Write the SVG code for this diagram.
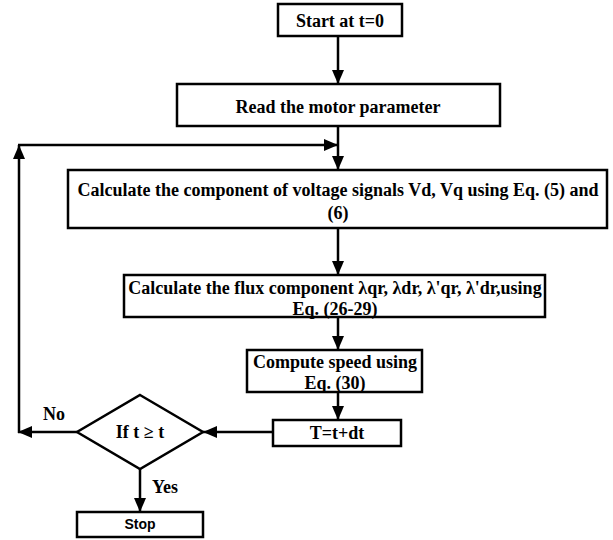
<svg xmlns="http://www.w3.org/2000/svg" width="613" height="540" viewBox="0 0 613 540">
<style>
.box{fill:#fff;stroke:#000;stroke-width:2.5}
.t{font-family:"Liberation Serif","Times New Roman",serif;font-weight:bold;font-size:18px;fill:#000;text-anchor:middle}
.s{font-family:"Liberation Sans",Arial,sans-serif;font-weight:bold;font-size:14px;fill:#000;text-anchor:middle}
.c{fill:none;stroke:#000;stroke-width:2.5}
</style>
<defs>
<marker id="ah" markerUnits="userSpaceOnUse" markerWidth="14" markerHeight="14" viewBox="0 0 14 14" refX="14" refY="7" orient="auto">
<path d="M0,1 L14,7 L0,13 Z" fill="#000"/>
</marker>
</defs>
<g id="connectors">
<path class="c" d="M338,36 V84" marker-end="url(#ah)"/>
<path class="c" d="M338,126 V170" marker-end="url(#ah)"/>
<path class="c" d="M77,432 H18" marker-end="url(#ah)"/>
<path class="c" d="M19,433 V145" marker-end="url(#ah)"/>
<path class="c" d="M18,145 H338" marker-end="url(#ah)"/>
<path class="c" d="M338,228 V275" marker-end="url(#ah)"/>
<path class="c" d="M338,317 V350" marker-end="url(#ah)"/>
<path class="c" d="M338,392 V420" marker-end="url(#ah)"/>
<path class="c" d="M273,432 H203" marker-end="url(#ah)"/>
<path class="c" d="M140,469 V512" marker-end="url(#ah)"/>
</g>
<g id="start">
<rect class="box" x="278" y="4" width="124" height="32"/>
<text class="t" x="340" y="27">Start at t=0</text>
</g>
<g id="read">
<rect class="box" x="177" y="84" width="323" height="42"/>
<text class="t" x="338" y="113">Read the motor parameter</text>
</g>
<g id="calc-voltage">
<rect class="box" x="68" y="170" width="539" height="58"/>
<text class="t" x="338" y="196">Calculate the component of voltage signals Vd, Vq using Eq. (5) and</text>
<text class="t" x="338" y="219">(6)</text>
</g>
<g id="calc-flux">
<rect class="box" x="124" y="275" width="421" height="42"/>
<text class="t" x="335" y="294">Calculate the flux component λqr, λdr, λ'qr, λ'dr,using</text>
<text class="t" x="335" y="315">Eq. (26-29)</text>
</g>
<g id="speed">
<rect class="box" x="247" y="350" width="175" height="42"/>
<text class="t" x="335" y="368">Compute speed using</text>
<text class="t" x="335" y="389">Eq. (30)</text>
</g>
<g id="increment">
<rect class="box" x="273" y="420" width="128" height="26"/>
<text class="t" x="337" y="439">T=t+dt</text>
</g>
<g id="decision">
<polygon class="box" points="140,395 203,432 140,469 77,432"/>
<text class="t" x="140" y="438">If t ≥ t</text>
</g>
<g id="labels">
<text class="t" x="54" y="420">No</text>
<text class="t" x="165" y="493">Yes</text>
</g>
<g id="stop">
<rect class="box" x="77" y="512" width="126" height="25"/>
<text class="s" x="140" y="529">Stop</text>
</g>
</svg>
